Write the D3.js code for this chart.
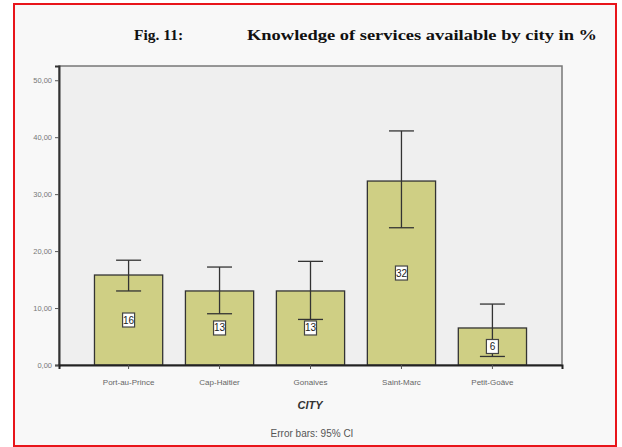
<!DOCTYPE html>
<html><head><meta charset="utf-8">
<script src="https://cdn.jsdelivr.net/npm/d3@7"></script>
<style>body{margin:0;background:#fff}svg{display:block}</style>
</head><body>
<svg id="c" width="622" height="447"></svg>
<script>
const cities = ["Port-au-Prince", "Cap-Haitier", "Gonaives", "Saint-Marc", "Petit-Goâve"];
const values = [15.8, 13.0, 13.0, 32.3, 6.5];
const ciLow = [13.0, 9.0, 8.0, 24.1, 1.5];
const ciHigh = [18.4, 17.2, 18.2, 41.1, 10.7];
const barLabels = ["16", "13", "13", "32", "6"];
const yTicks = [0, 10, 20, 30, 40, 50];
const yTickLabels = ["0,00", "10,00", "20,00", "30,00", "40,00", "50,00"];

const svg = d3.select("#c");
svg.append("rect").attr("x",14).attr("y",4).attr("width",602).attr("height",442)
  .attr("fill","#f8f8f8").attr("stroke","#e8151b").attr("stroke-width",2);

const L = 59, R = 562, T = 66, B = 365;
const x = d3.scaleBand().domain(cities).range([L, R]).paddingInner(0.25).paddingOuter(0.39);
const y = d3.scaleLinear().domain([0, 52.5]).range([B, T]);

svg.append("rect").attr("x",L).attr("y",T).attr("width",R-L).attr("height",B-T)
  .attr("fill","#efefef").attr("stroke","#777").attr("stroke-width",1.5);

// bars
const g = svg.append("g");
g.selectAll("rect.bar").data(cities).join("rect").attr("class","bar")
  .attr("x", d => x(d)).attr("width", x.bandwidth())
  .attr("y", (d,i) => y(values[i])).attr("height", (d,i) => B - y(values[i]))
  .attr("fill","#cfcf84").attr("stroke","#333").attr("stroke-width",1.3);

// error bars
const cx = d => x(d) + x.bandwidth()/2;
const cap = 12.5;
g.selectAll("line.eb").data(cities).join("line").attr("class","eb")
  .attr("x1",cx).attr("x2",cx).attr("y1",(d,i)=>y(ciLow[i])).attr("y2",(d,i)=>y(ciHigh[i]))
  .attr("stroke","#333").attr("stroke-width",1.3);
g.selectAll("line.capH").data(cities).join("line").attr("class","capH")
  .attr("x1",d=>cx(d)-cap).attr("x2",d=>cx(d)+cap).attr("y1",(d,i)=>y(ciHigh[i])).attr("y2",(d,i)=>y(ciHigh[i]))
  .attr("stroke","#333").attr("stroke-width",1.3);
g.selectAll("line.capL").data(cities).join("line").attr("class","capL")
  .attr("x1",d=>cx(d)-cap).attr("x2",d=>cx(d)+cap).attr("y1",(d,i)=>y(ciLow[i])).attr("y2",(d,i)=>y(ciLow[i]))
  .attr("stroke","#333").attr("stroke-width",1.3);

// value labels
const lab = g.selectAll("g.lab").data(cities).join("g").attr("class","lab")
  .attr("transform",(d,i)=>`translate(${cx(d)},${y(values[i]/2)})`);
lab.append("rect").attr("x",-6).attr("y",-7).attr("width",12).attr("height",14)
  .attr("fill","#fff").attr("stroke","#444").attr("stroke-width",1.2);
lab.append("text").attr("text-anchor","middle").attr("dy","0.35em")
  .attr("font-family","Liberation Sans, Arial, sans-serif").attr("font-size",10).attr("fill","#222")
  .text((d,i)=>barLabels[i]);

// axes
const yAxis = d3.axisLeft(y).tickValues(yTicks).tickFormat((d,i)=>yTickLabels[i]).tickSize(4);
const ya = svg.append("g").attr("transform",`translate(${L},0)`).call(yAxis);
ya.select(".domain").attr("stroke","#333").attr("stroke-width",2);
ya.selectAll(".tick line").attr("stroke","#555");
ya.selectAll("text").attr("font-family","Liberation Sans, Arial, sans-serif").attr("font-size",7.5).attr("fill","#777");

const xAxis = d3.axisBottom(x).tickSize(4).tickPadding(10);
const xa = svg.append("g").attr("transform",`translate(0,${B})`).call(xAxis);
xa.select(".domain").attr("stroke","#222").attr("stroke-width",2);
xa.selectAll(".tick line").attr("stroke","#555");
xa.selectAll("text").attr("font-family","Liberation Sans, Arial, sans-serif").attr("font-size",8).attr("fill","#666");

svg.append("text").attr("x",310).attr("y",409).attr("text-anchor","middle")
  .attr("font-family","Liberation Sans, Arial, sans-serif").attr("font-size",11).attr("font-weight","bold")
  .attr("font-style","italic").attr("fill","#333").text("CITY");
svg.append("text").attr("x",312).attr("y",437).attr("text-anchor","middle")
  .attr("font-family","Liberation Sans, Arial, sans-serif").attr("font-size",10).attr("fill","#555")
  .text("Error bars: 95% CI");

// title
svg.append("text").attr("x",134).attr("y",40)
  .attr("font-family","Liberation Serif, Times New Roman, serif").attr("font-size",15.5).attr("font-weight","bold")
  .attr("fill","#111").text("Fig. 11:");
svg.append("text").attr("x",247).attr("y",40).attr("textLength",350).attr("lengthAdjust","spacingAndGlyphs")
  .attr("font-family","Liberation Serif, Times New Roman, serif").attr("font-size",15.5).attr("font-weight","bold")
  .attr("fill","#111").text("Knowledge of services available by city in %");
</script>
</body></html>
